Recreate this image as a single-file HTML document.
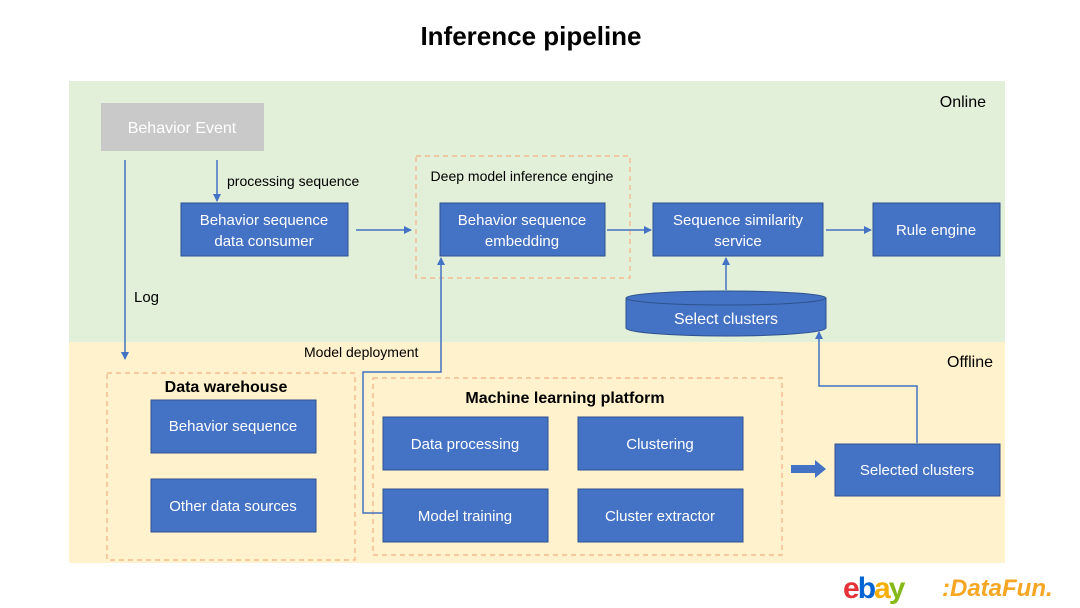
<!DOCTYPE html>
<html><head><meta charset="utf-8"><style>body{margin:0;background:#fff}svg{display:block}text{font-family:"Liberation Sans",sans-serif}</style></head><body>
<svg width="1080" height="608" viewBox="0 0 1080 608" xmlns="http://www.w3.org/2000/svg">
<defs><marker id="a" markerWidth="8" markerHeight="8" refX="7" refY="4" orient="auto" markerUnits="userSpaceOnUse"><path d="M0,0L8,4L0,8z" fill="#4472c4"/></marker></defs>
<text x="531" y="45" font-size="26" font-weight="bold" text-anchor="middle" fill="#000">Inference pipeline</text>
<rect x="69" y="81" width="936" height="261" fill="#e2efd9"/>
<rect x="69" y="342" width="936" height="221" fill="#fff2cc"/>
<text x="986" y="107" font-size="16" text-anchor="end">Online</text>
<text x="993" y="367" font-size="16" text-anchor="end">Offline</text>
<rect x="101" y="103" width="163" height="48" fill="#c9c9c9"/>
<text x="182" y="133" font-size="16" fill="#fff" text-anchor="middle">Behavior Event</text>
<g fill="none" stroke="#f4b183" stroke-dasharray="5,4" stroke-width="1.2">
<rect x="416" y="156" width="214" height="122"/>
<rect x="107" y="373" width="248" height="187"/>
<rect x="373" y="378" width="409" height="177"/>
</g>
<text x="522" y="181" font-size="14" text-anchor="middle">Deep model inference engine</text>
<text x="227" y="186" font-size="14">processing sequence</text>
<text x="134" y="302" font-size="15">Log</text>
<text x="304" y="357" font-size="14">Model deployment</text>
<text x="226" y="392" font-size="16" font-weight="bold" text-anchor="middle">Data warehouse</text>
<text x="565" y="403" font-size="16" font-weight="bold" text-anchor="middle">Machine learning platform</text>
<g fill="#4472c4" stroke="#2f528f">
<rect x="181" y="203" width="167" height="53"/>
<rect x="440" y="203" width="165" height="53"/>
<rect x="653" y="203" width="170" height="53"/>
<rect x="873" y="203" width="127" height="53"/>
<rect x="151" y="400" width="165" height="53"/>
<rect x="151" y="479" width="165" height="53"/>
<rect x="383" y="417" width="165" height="53"/>
<rect x="578" y="417" width="165" height="53"/>
<rect x="383" y="489" width="165" height="53"/>
<rect x="578" y="489" width="165" height="53"/>
<rect x="835" y="444" width="165" height="52"/>
<path d="M626,298 L626,328 A100,8 0 0 0 826,328 L826,298"/>
<ellipse cx="726" cy="298" rx="100" ry="7"/>
</g>
<g fill="#fff" font-size="15" text-anchor="middle">
<text x="264" y="225">Behavior sequence</text><text x="264" y="246">data consumer</text>
<text x="522" y="225">Behavior sequence</text><text x="522" y="246">embedding</text>
<text x="738" y="225">Sequence similarity</text><text x="738" y="246">service</text>
<text x="936" y="235">Rule engine</text>
<text x="233" y="431">Behavior sequence</text>
<text x="233" y="511">Other data sources</text>
<text x="465" y="449">Data processing</text>
<text x="660" y="449">Clustering</text>
<text x="465" y="521">Model training</text>
<text x="660" y="521">Cluster extractor</text>
<text x="917" y="475">Selected clusters</text>
<text x="726" y="324" font-size="16">Select clusters</text>
</g>
<g stroke="#4472c4" stroke-width="1.5" fill="none" marker-end="url(#a)">
<line x1="217" y1="160" x2="217" y2="201"/>
<line x1="125" y1="160" x2="125" y2="359"/>
<line x1="356" y1="230" x2="411" y2="230"/>
<line x1="607" y1="230" x2="651" y2="230"/>
<line x1="826" y1="230" x2="871" y2="230"/>
<line x1="726" y1="290" x2="726" y2="258"/>
<polyline points="383,513 363,513 363,372 441,372 441,258"/>
<polyline points="917,443 917,386 819,386 819,332"/>
</g>
<path d="M791,465 L815,465 L815,460 L826,469 L815,478 L815,473 L791,473z" fill="#4472c4"/>
<text x="843" y="598" font-size="30" font-weight="bold" letter-spacing="-2"><tspan fill="#e53238">e</tspan><tspan fill="#0064d2">b</tspan><tspan fill="#f5af02">a</tspan><tspan fill="#86b817">y</tspan></text>
<text x="942" y="596" font-size="24" font-weight="bold" font-style="italic" fill="#f5a623">:DataFun.</text>
</svg>
</body></html>
